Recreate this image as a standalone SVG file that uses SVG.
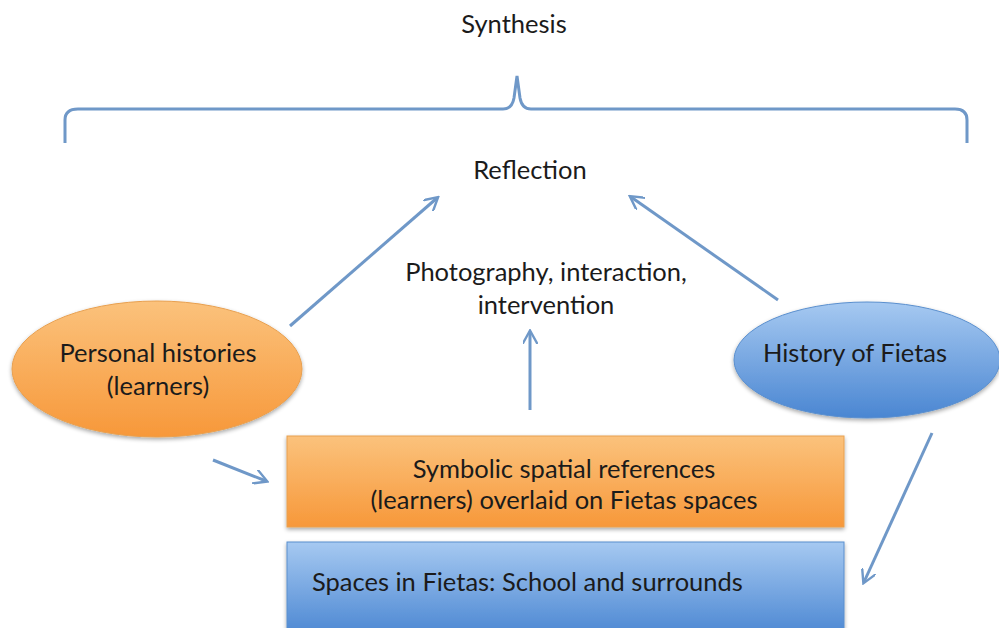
<svg xmlns="http://www.w3.org/2000/svg" width="999" height="628" viewBox="0 0 999 628">
<defs>
<linearGradient id="og" x1="0" y1="0" x2="0" y2="1"><stop offset="0" stop-color="#fbc27c"/><stop offset="1" stop-color="#f7983a"/></linearGradient>
<linearGradient id="bg" x1="0" y1="0" x2="0" y2="1"><stop offset="0" stop-color="#a6c9f1"/><stop offset="1" stop-color="#4a86d2"/></linearGradient>
<filter id="sh" x="-10%" y="-10%" width="120%" height="130%"><feGaussianBlur in="SourceAlpha" stdDeviation="2"/><feOffset dx="0" dy="2"/><feComponentTransfer><feFuncA type="linear" slope="0.35"/></feComponentTransfer><feMerge><feMergeNode/><feMergeNode in="SourceGraphic"/></feMerge></filter>
<marker id="ah" viewBox="0 0 10 10" refX="8" refY="5" markerWidth="5" markerHeight="5" orient="auto" markerUnits="strokeWidth"><path d="M0,0 L9,5 L0,10" fill="none" stroke="#6f98c8" stroke-width="1.6"/></marker>
<style>
.t{font-family:Lato,"Liberation Sans",sans-serif;font-size:25.5px;fill:#1b1b1b;text-anchor:middle}
.l{text-anchor:start}
.c{stroke:#6f98c8;stroke-width:3;fill:none;marker-end:url(#ah)}
.node-o{fill:url(#og);stroke:#e8a050;stroke-width:1}
.node-b{fill:url(#bg);stroke:#5a8fce;stroke-width:1}
</style>
</defs>
<rect width="999" height="628" fill="#ffffff"/>
<g id="synthesis"><text class="t" x="514" y="33">Synthesis</text></g>
<g id="bracket"><path d="M65,143 L65,120 Q65,109 78,109 L503,109 Q512,109 514,98 L517,76 L520,98 Q522,109 531,109 L955,109 Q967,109 967,120 L967,143" fill="none" stroke="#6f98c8" stroke-width="3"/></g>
<g id="reflection"><text class="t" x="530" y="179">Reflection</text></g>
<g id="photography"><text class="t" x="546" y="281">Photography, interaction,</text><text class="t" x="546" y="314">intervention</text></g>
<g id="personal"><ellipse class="node-o" cx="157" cy="369" rx="145" ry="68" filter="url(#sh)"/><text class="t" x="158" y="362">Personal histories</text><text class="t" x="158" y="395">(learners)</text></g>
<g id="history"><ellipse class="node-b" cx="867" cy="360" rx="133" ry="58" filter="url(#sh)"/><text class="t" x="855" y="362">History of Fietas</text></g>
<g id="symbolic"><rect class="node-o" x="287" y="436" width="557" height="91" filter="url(#sh)"/><text class="t" x="564" y="478">Symbolic spatial references</text><text class="t" x="564" y="509">(learners) overlaid on Fietas spaces</text></g>
<g id="spaces"><rect class="node-b" x="287" y="542" width="557" height="95" filter="url(#sh)"/><text class="t l" x="312" y="591">Spaces in Fietas: School and surrounds</text></g>
<g id="connectors">
<line class="c" x1="290" y1="326" x2="437" y2="198"/>
<line class="c" x1="778" y1="300" x2="631" y2="197"/>
<line class="c" x1="530" y1="410" x2="530" y2="332"/>
<line class="c" x1="213" y1="460" x2="266" y2="481"/>
<line class="c" x1="932" y1="433" x2="864" y2="582"/>
</g>
</svg>
